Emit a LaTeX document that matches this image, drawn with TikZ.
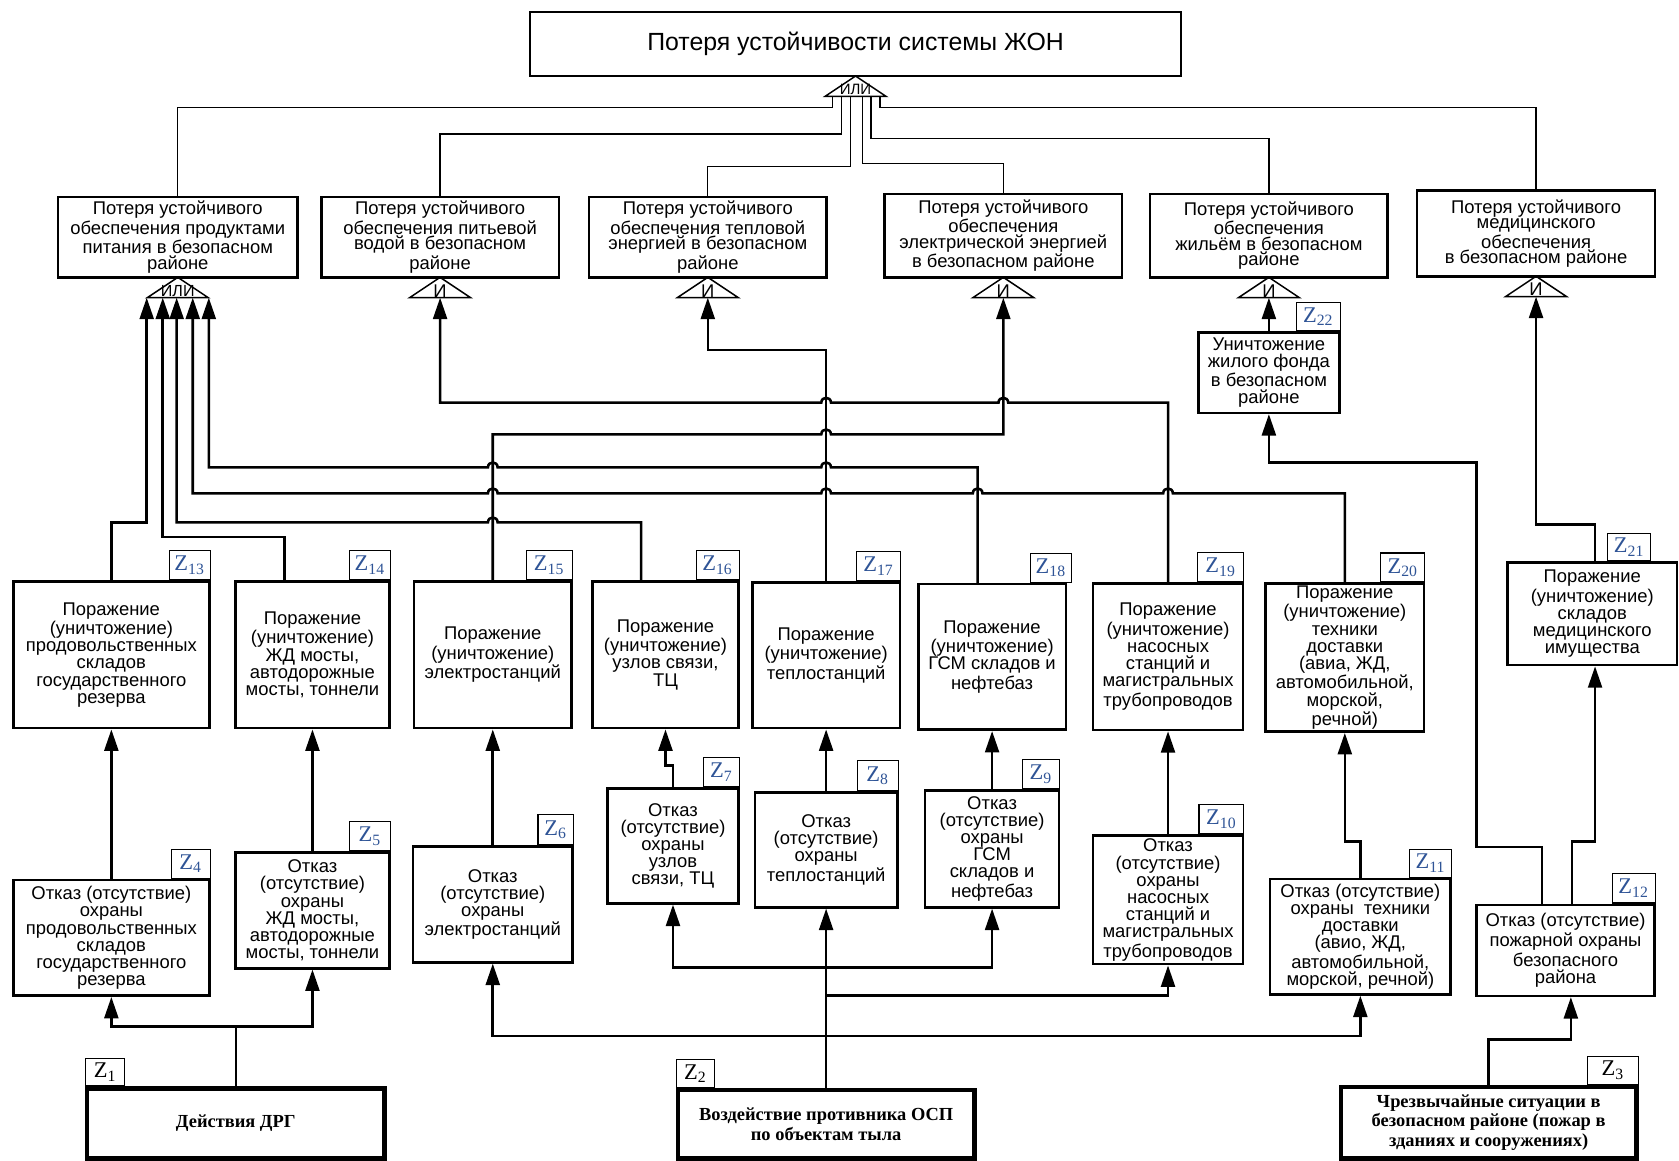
\documentclass[tikz,border=0pt]{standalone}
\usepackage{fontspec}
\setmainfont{Liberation Sans}
\newfontfamily\tms{Liberation Serif}
\usetikzlibrary{arrows.meta}
\definecolor{zblue}{RGB}{47,84,150}

\newcommand\zl[1]{Z\textsubscript{#1}}
% hop over a vertical line, going left / going right
\newcommand\hop[2]{-- ({#1+4.5},#2) .. controls ({#1+4.5},{#2-6}) and ({#1-4.5},{#2-6}) .. ({#1-4.5},#2)}
\newcommand\hopr[2]{-- ({#1-4.5},#2) .. controls ({#1-4.5},{#2-6}) and ({#1+4.5},{#2-6}) .. ({#1+4.5},#2)}
% gate: name, x, apex y, text, font size
\newcommand\gate[5]{%
  \draw[gateline] (#2,#3) -- ({#2+28.5},{#3+19}) -- ({#2-28.5},{#3+19}) -- cycle;
  \node[gatetxt, font=\fontsize{#5}{#5}\selectfont] (#1) at (#2,{#3+12.5}) {#4};
  \coordinate (#1in) at (#2,{#3+19});}

\tikzset{
	sz/.style 2 args={minimum width=#1*0.5pt, minimum height=#2*0.5pt},
	box/.style={draw, line width=1.2pt, align=center, inner sep=1pt, font=\fontsize{8.6}{8}\selectfont},
	goal/.style={box, font=\fontsize{8.6}{7.2}\selectfont},
	src/.style={draw, line width=2pt, align=center, inner sep=1pt, font=\tms\bfseries\fontsize{8.6}{9}\selectfont},
	zlab/.style={draw, line width=0.5pt, sz={38}{27}, inner sep=0pt, text=zblue, font=\tms\fontsize{10.5}{10.5}\selectfont},
	arr/.style={line width=1.2pt, -{Triangle[length=10pt,width=6.5pt]}},
	tline/.style={line width=0.6pt},
	gateline/.style={line width=0.7pt, line join=miter},
	gatetxt/.style={inner sep=0pt}
}

\begin{document}
\begin{tikzpicture}[x=0.5pt, y=-0.5pt]
		\useasboundingbox (0,0) rectangle (1568,1084);
		
		\node[box, sz={608}{60}, font=\fontsize{11.6}{14}\selectfont] (top) at (799,41) {Потеря устойчивости системы ЖОН};
		
		% loss of supply
		\node[goal, sz={224}{75}] (p1) at (166,221.5) {Потеря устойчивого\\обеспечения продуктами\\питания в безопасном\\районе};
		\node[goal, sz={222}{75}] (p2) at (411,221.5) {Потеря устойчивого\\обеспечения питьевой\\водой в безопасном\\районе};
		\node[goal, sz={222}{75}] (p3) at (661,221.5) {Потеря устойчивого\\обеспечения тепловой\\энергией в безопасном\\районе};
		\node[goal, sz={222}{78}] (p4) at (937,220) {Потеря устойчивого\\обеспечения\\электрической энергией\\в безопасном районе};
		\node[goal, sz={222}{78}] (p5) at (1185,220) {Потеря устойчивого\\обеспечения\\жильём в безопасном\\районе};
		\node[goal, sz={222}{80}] (p6) at (1434.5,218) {Потеря устойчивого\\медицинского\\обеспечения\\в безопасном районе};
		
		\gate{g0}{799}{71}{ИЛИ}{7}
		\gate{g1}{166}{259}{ИЛИ}{7.5}
		\gate{g2}{411}{259}{И}{8.6}
		\gate{g3}{661}{259}{И}{8.6}
		\gate{g4}{937}{259}{И}{8.6}
		\gate{g5}{1185}{259}{И}{8.6}
		\gate{g6}{1434.5}{258}{И}{8.6}
		
		\node[box, sz={132}{75}] (n22) at (1185,348) {Уничтожение\\жилого фонда\\в безопасном\\районе};
		
		% destruction
		\node[box, sz={183}{137}] (n13) at (104,611.5) {Поражение\\(уничтожение)\\продовольственных\\складов\\государственного\\резерва};
		\node[box, sz={144}{137}] (n14) at (291.8,611.5) {Поражение\\(уничтожение)\\ЖД мосты,\\автодорожные\\мосты, тоннели};
		\node[box, sz={147}{137}] (n15) at (460.2,611.5) {Поражение\\(уничтожение)\\электростанций};
		\node[box, sz={136}{137}] (n16) at (621.5,611.5) {Поражение\\(уничтожение)\\узлов связи,\\ТЦ};
		\node[box, sz={138}{136}] (n17) at (771.5,612) {Поражение\\(уничтожение)\\теплостанций};
		\node[box, sz={138}{136}] (n18) at (926.5,613.5) {Поражение\\(уничтожение)\\ГСМ складов и\\нефтебаз};
		\node[box, sz={140}{137}] (n19) at (1090.8,613.2) {Поражение\\(уничтожение)\\насосных\\станций и\\магистральных\\трубопроводов};
		\node[box, sz={148}{137}] (n20) at (1255.9,614.2) {Поражение\\(уничтожение)\\техники\\доставки\\(авиа, ЖД,\\автомобильной,\\морской,\\речной)};
		\node[box, sz={158}{95.5}] (n21) at (1487,573.3) {Поражение\\(уничтожение)\\складов\\медицинского\\имущества};
		
		% no guard
		\node[box, sz={183}{108}] (n4) at (104,875.8) {Отказ (отсутствие)\\охраны\\продовольственных\\складов\\государственного\\резерва};
		\node[box, sz={144}{108}] (n5) at (291.8,850.2) {Отказ\\(отсутствие)\\охраны\\ЖД мосты,\\автодорожные\\мосты, тоннели};
		\node[box, sz={149}{108}] (n6) at (460.2,844.7) {Отказ\\(отсутствие)\\охраны\\электростанций};
		\node[box, sz={122}{107.4}] (n7) at (628.5,789.9) {Отказ\\(отсутствие)\\охраны\\узлов\\связи, ТЦ};
		\node[box, sz={133}{107.3}] (n8) at (771.5,793.7) {Отказ\\(отсутствие)\\охраны\\теплостанций};
		\node[box, sz={125}{109.3}] (n9) at (926.5,792.7) {Отказ\\(отсутствие)\\охраны\\ГСМ\\складов и\\нефтебаз};
		\node[box, sz={140.4}{120}] (n10) at (1090.8,840.4) {Отказ\\(отсутствие)\\охраны\\насосных\\станций и\\магистральных\\трубопроводов};
		\node[box, sz={168.7}{107.7}] (n11) at (1270.4,874.8) {Отказ (отсутствие)\\охраны~ техники\\доставки\\(авио, ЖД,\\автомобильной,\\морской, речной)};
		\node[box, sz={166}{85}] (n12) at (1462,887.5) {Отказ (отсутствие)\\пожарной охраны\\безопасного\\района};
		
		% sources
		\node[src, sz={277.5}{65.6}] (n1) at (220.2,1049.2) {Действия ДРГ};
		\node[src, sz={277}{64}] (n2) at (771.5,1050) {Воздействие противника ОСП\\по объектам тыла};
		\node[src, sz={276.3}{67}] (n3) at (1390.2,1048.4) {Чрезвычайные ситуации в\\безопасном районе (пожар в\\зданиях и сооружениях)};
		
		% labels
		\node[zlab, anchor=south west, sz={36.5}{25.5}, text=black] (z1) at (n1.north west) {\zl{1}};
		\node[zlab, anchor=south west, sz={36}{26}, text=black] (z2) at (n2.north west) {\zl{2}};
		\node[zlab, anchor=south east, sz={47}{26}, text=black] (z3) at (n3.north east) {\zl{3}};
		\node[zlab, anchor=south east, sz={36}{27}] (z4) at (n4.north east) {\zl{4}};
		\node[zlab, anchor=south east] (z5) at (n5.north east) {\zl{5}};
		\node[zlab, anchor=south east, sz={33}{28}] (z6) at (n6.north east) {\zl{6}};
		\node[zlab, anchor=south east, sz={33}{27}] (z7) at (n7.north east) {\zl{7}};
		\node[zlab, anchor=south east, sz={38}{28}] (z8) at (n8.north east) {\zl{8}};
		\node[zlab, anchor=south east, sz={35}{27}] (z9) at (n9.north east) {\zl{9}};
		\node[zlab, anchor=south east, sz={42}{27}] (z10) at (n10.north east) {\zl{10}};
		\node[zlab, anchor=south east, sz={39}{26}] (z11) at (n11.north east) {\zl{11}};
		\node[zlab, anchor=south east, sz={40}{28}] (z12) at (n12.north east) {\zl{12}};
		\node[zlab, anchor=south east] (z13) at (n13.north east) {\zl{13}};
		\node[zlab, anchor=south east] (z14) at (n14.north east) {\zl{14}};
		\node[zlab, anchor=south east, sz={43}{27}] (z15) at (n15.north east) {\zl{15}};
		\node[zlab, anchor=south east, sz={40}{27}] (z16) at (n16.north east) {\zl{16}};
		\node[zlab, anchor=south east, sz={41.5}{27}] (z17) at (n17.north east) {\zl{17}};
		\node[zlab, anchor=south east] (z18) at (1001,0 |- n18.north) {\zl{18}};
		\node[zlab, anchor=south east, sz={43}{27}] (z19) at (n19.north east) {\zl{19}};
		\node[zlab, anchor=south east, sz={41}{27}] (z20) at (n20.north east) {\zl{20}};
		\node[zlab, anchor=south east, sz={40}{25.5}] (z21) at (1542,0 |- n21.north) {\zl{21}};
		\node[zlab, anchor=south east, sz={41}{26.5}] (z22) at (n22.north east) {\zl{22}};
		
		% top level
		\draw[tline] (p1.north) |- (777.6,100.6) -- (777.6,0 |- g0in);
		\draw[tline] (p2.north) |- (786,125) -- (786,0 |- g0in);
		\draw[tline] (p3.north) |- (794,155.6) -- (794,0 |- g0in);
		\draw[tline] (p4.north) |- (805.3,152.9) -- (805.3,0 |- g0in);
		\draw[tline] (p5.north) |- (813.4,129.5) -- (813.4,0 |- g0in);
		\draw[tline] (p6.north) |- (821.8,100.6) -- (821.8,0 |- g0in);
		
		% into the gates
		\draw[arr] (n13.north) |- (137,487.8) -- (137,0 |- g1in);
		\draw[arr] (265.6,0 |- n14.north) |- (152,501.5) -- (152,0 |- g1in);
		\draw[arr] (598.8,0 |- n16.north) -- (598.8,487.8) \hop{460.2}{487.8} -- (165,487.8) -- (165,0 |- g1in);
		\draw[arr] (1255.9,0 |- n20.north) -- (1255.9,460.7) \hop{1090.8}{460.7} \hop{913}{460.7} \hop{771.5}{460.7} \hop{460.2}{460.7} -- (180,460.7) -- (180,0 |- g1in);
		\draw[arr] (913,0 |- n18.north) -- (913,436.4) \hop{771.5}{436.4} \hop{460.2}{436.4} -- (195,436.4) -- (195,0 |- g1in);
		\draw[arr] (n19.north) -- (1090.8,376) \hop{937}{376} \hop{771.5}{376} -- (411,376) -- (g2in);
		\draw[arr] (n17.north) |- (661,327) -- (g3in);
		\draw[arr] (n15.north) -- (460.2,405.6) \hopr{771.5}{405.6} -- (937,405.6) -- (g4in);
		\draw[arr] (n22.north) -- (g5in);
		\draw[arr] (1489.6,0 |- n21.north) |- (1434.5,490) -- (g6in);
		
		% fire guard
		\draw[arr] (1440,0 |- n12.north) |- (1379,791) |- (1185,432) -- (n22.south);
		\draw[arr] (1468,0 |- n12.north) |- (1489.6,786) -- (1489.6,0 |- n21.south);
		
		% guard to destruction
		\draw[arr] (n4.north) -- (n13.south);
		\draw[arr] (n5.north) -- (n14.south);
		\draw[arr] (n6.north) -- (n15.south);
		\draw[arr] (n7.north) |- (621.5,715) -- (n16.south);
		\draw[arr] (n8.north) -- (n17.south);
		\draw[arr] (n9.north) -- (n18.south);
		\draw[arr] (n10.north) -- (n19.south);
		\draw[arr] (n11.north) |- (1255.9,786) -- (n20.south);
		
		% sources
		\draw[arr] (n1.north) |- (104,958.8) -- (n4.south);
		\draw[arr] (n1.north) |- (291.8,958.8) -- (n5.south);
		\draw[arr] (n2.north) -- (n8.south);
		\draw[arr] (n2.north) |- (628.5,903.7) -- (n7.south);
		\draw[arr] (n2.north) |- (926.5,903.7) -- (n9.south);
		\draw[arr] (n2.north) |- (1090.8,929.8) -- (n10.south);
		\draw[arr] (n2.north) |- (460.2,967.5) -- (n6.south);
		\draw[arr] (n2.north) |- (1270.4,967.5) -- (n11.south);
		\draw[arr] (n3.north) |- (1467,971) -- (1467,0 |- n12.south);
\end{tikzpicture}
\end{document}
